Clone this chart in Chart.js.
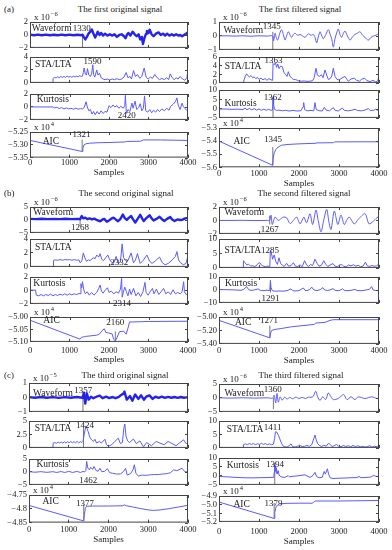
<!DOCTYPE html>
<html>
<head>
<meta charset="utf-8">
<script src="https://cdn.jsdelivr.net/npm/chart.js@4.4.0/dist/chart.umd.min.js"></script>
<style>
  body { margin: 0; background: #fff; }
  #fig { position: relative; width: 392px; height: 550px; overflow: hidden; background: #fff; font-family: 'Liberation Serif', 'Times New Roman', serif; color: #222; }
  #fig canvas { position: absolute; }
  .ttl { position: absolute; font-size: 9px; white-space: nowrap; transform: translate(-50%, -50%); }
  .tag { position: absolute; font-size: 9px; transform: translate(0, -50%); }
</style>
</head>
<body>
<div id="fig"></div>
<script>
const FONT = "'Liberation Serif', 'Times New Roman', serif";
const BLUE = 'rgb(90,90,255)';
const BLUE_DARK = 'rgb(35,35,235)';

// shared
const xTicks = [0, 1000, 2000, 3000, 4000];
const rowNames = ['Waveform', 'STA/LTA', 'Kurtosis', 'AIC'];
const titles = ['The first original signal', 'The first filtered signal', 'The second original signal',
                'The second filtered signal', 'The third original signal', 'The third filtered signal'];
const tags = ['(a)', '(b)', '(c)'];

// (a) first original signal
const aOrigWave = [[0,0.05],[100,-0.05],[200,0.06],[300,-0.04],[400,0.05],[500,-0.05],[600,0.04],[700,-0.05],[800,0.06],[900,-0.04],[1000,0.05],[1100,-0.05],[1200,0.04],[1300,-0.04],[1330,0.05],[1360,-0.3],[1400,-0.7],[1440,-0.3],[1480,0.2],[1530,0.5],[1565,0.85],[1600,0.3],[1650,-0.4],[1690,0.1],[1715,0.5],[1760,0.0],[1800,0.3],[1850,-0.1],[1900,0.2],[1960,-0.1],[2020,0.1],[2080,-0.1],[2140,0.1],[2200,-0.3],[2260,0.0],[2320,0.1],[2380,-0.2],[2420,-0.5],[2460,0.1],[2490,0.3],[2540,-0.1],[2600,0.5],[2650,0.1],[2700,-0.2],[2750,0.1],[2790,-0.7],[2830,-0.3],[2860,-1.4],[2900,-0.4],[2940,0.2],[2960,0.6],[3000,0.3],[3030,0.8],[3080,0.1],[3130,-0.2],[3190,0.2],[3255,0.4],[3310,0.0],[3370,0.2],[3420,-0.1],[3470,0.2],[3530,-0.1],[3590,0.1],[3640,-0.1],[3700,0.1],[3760,-0.1],[3800,0.0],[3850,-0.2],[3900,0.0],[3950,0.2],[4000,0.4]];
const aOrigSta = [[0,0],[580,0],[585,0.7],[620,0.85],[660,0.75],[700,0.95],[740,0.8],[780,1.0],[820,0.85],[860,1.0],[900,0.85],[940,1.05],[980,0.9],[1020,1.0],[1060,0.85],[1100,1.05],[1140,0.9],[1180,1.05],[1220,0.95],[1260,1.1],[1300,1.0],[1330,1.05],[1350,1.6],[1370,2.3],[1400,1.4],[1430,1.2],[1455,2.2],[1490,1.2],[1530,1.0],[1560,1.4],[1590,2.8],[1610,1.3],[1640,0.9],[1690,2.0],[1720,1.2],[1760,1.5],[1800,0.8],[1850,0.6],[1900,0.5],[1960,0.6],[2020,0.45],[2080,0.6],[2140,0.5],[2200,0.65],[2260,0.5],[2320,0.6],[2380,0.9],[2435,1.6],[2480,0.8],[2530,1.0],[2570,0.6],[2620,1.9],[2670,1.0],[2720,1.3],[2780,0.7],[2830,1.0],[2890,2.3],[2940,0.9],[2990,0.6],[3050,0.9],[3100,0.7],[3160,1.3],[3220,0.8],[3280,0.5],[3340,0.7],[3400,0.5],[3460,0.8],[3510,0.5],[3550,1.4],[3600,0.8],[3650,0.5],[3700,0.8],[3750,0.6],[3800,1.0],[3860,0.6],[3920,0.4],[3970,0.8],[4000,1.9]];
const aOrigKurt = [[0,0],[300,0],[580,0],[620,-0.15],[680,-0.05],[740,-0.25],[800,-0.1],[860,-0.3],[920,-0.15],[980,-0.3],[1040,-0.2],[1100,-0.35],[1160,-0.2],[1220,-0.35],[1280,-0.25],[1330,-0.3],[1370,-0.1],[1420,0.8],[1450,0.0],[1490,-0.6],[1530,-0.4],[1570,-1.1],[1610,-0.7],[1650,-1.2],[1700,-0.7],[1750,-1.1],[1800,-0.6],[1850,-1.0],[1900,-0.7],[1950,-0.8],[2000,0.2],[2050,-0.1],[2100,0.3],[2150,0.0],[2200,0.2],[2250,-0.2],[2300,0.1],[2360,-0.2],[2400,0.2],[2415,1.8],[2440,-1.0],[2480,-0.4],[2530,-0.7],[2580,0.6],[2610,-0.2],[2660,0.9],[2700,-0.4],[2750,-0.1],[2790,0.5],[2830,-0.6],[2870,-0.2],[2900,1.7],[2930,-0.6],[2980,-0.8],[3030,-0.4],[3080,-0.9],[3130,-0.5],[3180,-0.8],[3230,-0.4],[3280,-0.7],[3340,-0.3],[3400,-0.6],[3460,-0.2],[3520,-0.5],[3560,0.1],[3620,0.4],[3680,0.8],[3720,1.4],[3750,0.3],[3800,-0.4],[3850,0.6],[3880,0.1],[3920,-0.2],[3960,-0.5],[4000,-0.3]];
const aOrigAic = [[0,-5.283],[1321,-5.326],[1340,-5.312],[1370,-5.300],[1420,-5.296],[1500,-5.294],[1700,-5.292],[2000,-5.291],[2400,-5.289],[2450,-5.287],[2800,-5.286],[2870,-5.281],[3300,-5.281],[4000,-5.283]];
const aOrigTicks = [['−2','0','2'], ['0','2','4'], ['−2','0','2'], ['−5.35','−5.30','−5.25']];
const aOrigExp = [-6, null, null, 4];
const aOrigPicks = ['1330', '1590', '2420', '1321'];
const aOrigNamePos = [[43,0.92], [127,2.77], [170,1.08], [322,-5.287]];
const aOrigPickPos = [[1311,0.92], [1580,3.28], [2452,-1.34], [1301,-5.2615]];
const aOrigMarks = [[1330,-2,0.05], null, null, [1321,-5.326,-5.28]];

// (a) first filtered signal
const aFiltWave = [[0,0.0],[200,0.01],[400,-0.01],[600,0.01],[800,-0.02],[1000,0.01],[1200,-0.01],[1340,0.0],[1365,-0.35],[1400,0.2],[1440,-0.2],[1467,-0.3],[1520,0.2],[1567,0.45],[1610,0.1],[1650,-0.3],[1690,0.0],[1733,0.3],[1780,0.05],[1817,-0.1],[1860,0.1],[1900,0.2],[1960,0.05],[2025,0.1],[2090,0.0],[2150,-0.1],[2233,0.15],[2300,0.05],[2358,0.1],[2400,-0.1],[2442,-0.5],[2480,-0.1],[2525,0.3],[2570,0.0],[2608,-0.2],[2670,0.1],[2733,0.45],[2780,0.1],[2817,-0.2],[2858,-0.8],[2900,-0.2],[2940,0.2],[2983,0.5],[3025,0.1],[3067,-0.1],[3110,0.2],[3150,0.35],[3210,0.0],[3275,-0.3],[3340,-0.05],[3400,0.1],[3460,0.2],[3525,0.3],[3590,0.05],[3650,-0.1],[3733,-0.3],[3800,-0.1],[3858,0.0],[3930,0.05],[4000,0.2]];
const aFiltSta = [[0,0],[608,0],[630,0.8],[660,1.6],[692,2.1],[720,1.7],[760,1.4],[800,1.7],[840,1.2],[880,1.4],[920,1.0],[960,1.3],[1000,0.8],[1050,1.1],[1100,0.7],[1150,1.0],[1200,0.6],[1250,1.0],[1300,0.7],[1342,0.6],[1350,4.5],[1380,4.2],[1410,4.7],[1440,3.6],[1470,4.4],[1500,3.3],[1540,3.9],[1583,3.75],[1620,2.5],[1667,1.9],[1700,1.5],[1733,2.6],[1770,1.6],[1817,1.1],[1860,0.8],[1920,0.75],[1990,0.5],[2060,0.4],[2130,0.45],[2200,0.35],[2270,0.4],[2340,0.5],[2380,1.2],[2425,3.4],[2460,1.8],[2510,1.5],[2560,1.9],[2600,1.2],[2650,3.0],[2700,1.6],[2733,0.8],[2780,1.0],[2820,1.6],[2858,3.4],[2900,1.5],[2950,0.8],[3000,0.7],[3050,1.0],[3150,1.5],[3200,0.8],[3233,0.4],[3300,0.9],[3380,1.1],[3440,0.6],[3510,0.4],[3560,0.8],[3640,1.1],[3700,0.5],[3780,0.3],[3850,0.6],[3920,0.2],[3970,0.5],[4000,1.9]];
const aFiltKurt = [[0,-0.3],[150,-0.2],[300,-0.4],[450,-0.3],[600,-0.5],[650,0.3],[700,-0.6],[760,0.1],[820,-0.7],[880,0.0],[940,-0.8],[1000,-0.2],[1060,-0.9],[1120,-0.3],[1180,-0.9],[1240,-0.4],[1300,-0.9],[1340,-0.8],[1350,6.3],[1365,2.0],[1390,-0.4],[1440,-1.0],[1500,-0.8],[1580,-1.2],[1660,-0.9],[1750,-1.3],[1850,-1.0],[1950,-1.3],[2050,-1.1],[2100,1.0],[2117,3.2],[2140,-0.5],[2200,-1.2],[2300,-1.0],[2370,-1.2],[2400,3.2],[2430,-0.5],[2500,-1.1],[2580,-1.3],[2633,0.7],[2680,-0.8],[2760,-1.2],[2858,0.5],[2900,-0.9],[2980,-1.3],[3083,0.3],[3130,-0.9],[3220,-1.2],[3320,-0.9],[3400,-0.3],[3460,-1.0],[3560,-1.2],[3650,-0.8],[3733,0.0],[3780,-1.0],[3870,-0.9],[3920,-0.3],[3970,-1.0],[4000,-0.8]];
const aFiltAic = [[0,-5.40],[1342,-5.585],[1355,-5.53],[1380,-5.49],[1420,-5.465],[1480,-5.445],[1560,-5.432],[1700,-5.426],[2000,-5.421],[2400,-5.417],[2420,-5.414],[2860,-5.412],[2890,-5.406],[4000,-5.405]];
const aFiltTicks = [['−1','0','1'], ['0','2','4','6'], ['−5','0','5','10'], ['−5.6','−5.5','−5.4','−5.3']];
const aFiltExp = [-6, null, null, 4];
const aFiltPicks = ['1345', '1363', '1362', '1345'];
const aFiltNamePos = [[110,0.38], [143,3.76], [135,2.88], [360,-5.405]];
const aFiltPickPos = [[1318,0.64], [1360,5.08], [1342,5.88], [1350,-5.392]];
const aFiltMarks = [[1345,-1,0.3], null, [1350,-5,6.3], [1345,-5.585,-5.445]];

// (b) second original signal
const bOrigWave = [[0,0.4],[150,0.3],[300,0.45],[450,0.3],[600,0.4],[750,0.3],[900,0.45],[1050,0.3],[1200,0.4],[1268,0.3],[1310,1.5],[1350,0.6],[1400,0.9],[1450,0.3],[1510,0.6],[1570,0.2],[1630,0.5],[1700,-0.1],[1775,-0.5],[1830,0.1],[1880,0.4],[1945,-0.7],[2000,-0.2],[2060,0.5],[2115,0.9],[2170,0.2],[2230,-0.5],[2290,0.4],[2350,2.1],[2400,0.7],[2450,0.0],[2500,0.8],[2560,1.5],[2610,0.2],[2665,-1.0],[2720,0.3],[2790,2.0],[2840,0.5],[2880,-0.4],[2930,0.5],[3030,1.8],[3080,0.6],[3130,-0.2],[3200,0.4],[3280,1.2],[3340,0.3],[3400,-0.4],[3470,0.4],[3550,1.1],[3600,0.2],[3660,-0.4],[3730,0.2],[3800,0.0],[3860,0.1],[3930,0.6],[4000,0.8]];
const bOrigSta = [[0,0],[590,0],[595,0.95],[640,1.0],[700,0.95],[760,1.05],[820,0.95],[880,1.05],[940,1.0],[1000,1.05],[1060,0.95],[1120,1.05],[1180,0.95],[1240,1.0],[1268,0.6],[1310,0.8],[1350,2.0],[1390,1.3],[1430,0.8],[1480,1.0],[1520,0.9],[1600,1.3],[1650,1.2],[1690,1.7],[1740,1.4],[1775,1.9],[1815,1.1],[1860,0.9],[1900,1.2],[1970,1.7],[2010,1.1],[2060,0.7],[2115,0.5],[2180,1.5],[2230,0.6],[2290,0.7],[2332,3.3],[2370,1.3],[2440,0.8],[2480,0.9],[2560,2.0],[2620,0.6],[2670,1.0],[2720,1.9],[2790,0.5],[2860,0.9],[2960,1.7],[3030,0.8],[3090,0.5],[3180,0.9],[3280,1.4],[3350,0.6],[3420,0.3],[3500,0.5],[3600,1.0],[3680,1.5],[3720,2.2],[3760,1.0],[3810,0.6],[3880,0.3],[3950,0.5],[3980,1.2],[4000,1.0]];
const bOrigKurt = [[0,0.05],[140,0.05],[160,-0.7],[220,-0.8],[280,-0.6],[340,-0.8],[400,-0.6],[460,-0.75],[520,-0.55],[580,-0.8],[640,-0.6],[700,-0.75],[760,-0.55],[820,-0.7],[880,-0.5],[940,-0.7],[1000,-0.5],[1060,-0.65],[1120,-0.5],[1180,-0.6],[1240,-0.45],[1268,-0.5],[1290,1.0],[1310,0.4],[1330,1.3],[1360,0.1],[1400,-0.5],[1450,-0.2],[1500,-0.7],[1560,-0.3],[1620,-0.7],[1690,-0.3],[1740,0.3],[1775,0.8],[1810,-0.1],[1850,-0.4],[1900,0.0],[1960,0.4],[2000,-0.3],[2060,-0.1],[2120,-0.5],[2180,-0.2],[2240,-0.4],[2290,0.2],[2320,1.8],[2335,-1.0],[2360,-0.3],[2400,0.5],[2440,-0.2],[2480,-0.8],[2520,0.2],[2560,-0.6],[2620,0.3],[2680,-0.8],[2740,-0.3],[2800,-0.9],[2860,-0.2],[2910,1.2],[2940,-0.3],[2990,-0.7],[3040,-0.2],[3100,0.3],[3140,-0.5],[3200,0.2],[3260,-0.6],[3320,-0.2],[3380,0.3],[3440,-0.5],[3500,-0.2],[3560,-0.6],[3620,0.1],[3680,-0.5],[3740,-0.3],[3800,-0.5],[3850,-0.2],[3890,1.3],[3910,-0.2],[3950,-0.6],[4000,-0.5]];
const bOrigAic = [[0,-5.013],[1268,-5.089],[1300,-5.082],[1400,-5.078],[1520,-5.076],[1690,-5.073],[1760,-5.068],[1820,-5.056],[1880,-5.047],[1920,-5.062],[1990,-5.064],[2080,-5.068],[2115,-5.089],[2160,-5.096],[2200,-5.084],[2265,-5.059],[2370,-5.057],[2435,-5.069],[2480,-5.045],[2520,-5.020],[2800,-5.019],[3000,-5.018],[4000,-5.017]];
const bOrigTicks = [['−5','0','5'], ['0','2','4'], ['−2','0','2'], ['−5.10','−5.05','−5.00']];
const bOrigExp = [-6, null, null, 4];
const bOrigPicks = ['1268', '2332', '2314', '2160'];
const bOrigNamePos = [[85,2.96], [127,2.71], [85,0.96], [338,-5.015]];
const bOrigPickPos = [[1268,-3.08], [2258,0.57], [2326,-1.95], [2156,-5.021]];
const bOrigMarks = [[1268,-2.3,0.3], null, null, [2160,-5.096,-5.058]];

// (b) second filtered signal
const bFiltWave = [[0,0],[300,0.0],[600,0.02],[900,-0.02],[1200,0.01],[1265,0.0],[1300,0.8],[1333,-0.6],[1400,0.5],[1480,0.0],[1560,0.3],[1608,0.5],[1690,0.4],[1775,-0.45],[1860,0.0],[1942,0.5],[2025,-0.5],[2100,0.3],[2125,0.5],[2190,-0.35],[2275,1.0],[2340,-0.6],[2425,1.55],[2480,0.0],[2550,-1.7],[2620,0.1],[2692,1.65],[2750,-0.3],[2800,-1.35],[2883,1.4],[2970,-0.6],[3050,0.8],[3130,-0.6],[3200,0.1],[3258,0.5],[3380,-0.5],[3480,0.15],[3650,1.0],[3750,-0.5],[3860,-0.1],[3930,0.3],[4000,0.65]];
const bFiltSta = [[0,0],[600,0],[610,2.5],[650,1.8],[700,1.0],[740,1.3],[790,0.6],[830,0.8],[880,0.5],[930,0.7],[980,1.6],[1020,1.8],[1060,1.0],[1110,0.6],[1160,0.5],[1220,0.6],[1270,0.5],[1285,6.0],[1310,5.2],[1340,3.0],[1380,4.5],[1420,2.2],[1460,1.2],[1500,3.5],[1540,1.5],[1580,1.0],[1630,0.5],[1690,1.6],[1740,0.6],[1800,0.8],[1860,1.8],[1910,0.6],[1960,0.5],[2030,1.0],[2080,0.4],[2140,2.5],[2190,1.0],[2240,0.5],[2290,1.2],[2340,0.8],[2400,3.0],[2450,1.6],[2500,0.6],[2560,0.9],[2620,2.5],[2670,1.2],[2720,0.5],[2780,1.0],[2850,1.5],[2900,0.6],[2960,0.4],[3020,1.0],[3070,1.2],[3120,0.5],[3180,0.4],[3240,1.0],[3300,0.7],[3360,1.1],[3420,0.6],[3480,0.9],[3540,0.4],[3600,0.6],[3660,2.0],[3700,0.8],[3760,0.5],[3820,0.8],[3880,0.6],[3940,0.7],[4000,1.5]];
const bFiltKurt = [[0,0.3],[200,0.2],[400,0.0],[550,-0.3],[620,0.5],[692,2.6],[740,0.2],[800,-0.4],[880,0.0],[980,0.8],[1030,-0.3],[1100,-0.5],[1200,-0.2],[1270,-0.5],[1285,7.3],[1300,2.0],[1330,-0.5],[1400,-1.0],[1500,-0.8],[1600,-0.9],[1700,-0.6],[1800,0.8],[1840,-0.5],[1900,-0.8],[2000,-0.5],[2080,1.0],[2110,1.5],[2150,-0.3],[2200,-0.5],[2270,0.3],[2317,2.2],[2370,0.0],[2450,-0.5],[2530,0.2],[2600,1.8],[2640,0.0],[2720,-0.5],[2800,0.3],[2850,1.0],[2900,-0.3],[3000,-0.6],[3090,0.9],[3130,-0.3],[3200,-0.6],[3300,-0.3],[3400,0.4],[3450,-0.4],[3550,-0.6],[3650,-0.2],[3760,0.5],[3817,2.6],[3850,0.0],[3920,-0.5],[4000,-0.4]];
const bFiltAic = [[0,-5.05],[1271,-5.31],[1290,-5.24],[1317,-5.20],[1400,-5.185],[1570,-5.17],[1817,-5.145],[2150,-5.125],[2383,-5.11],[2415,-5.09],[2650,-5.08],[2775,-5.05],[2860,-5.04],[4000,-5.04]];
const bFiltTicks = [['−2','0','2'], ['0','5','10'], ['−10','0','10'], ['−5.40','−5.20','−5.00']];
const bFiltExp = [-6, null, null, 4];
const bFiltPicks = ['1267', '1285', '1291', '1271'];
const bFiltNamePos = [[135,1.21], [135,5.97], [150,4.6], [400,-5.079]];
const bFiltPickPos = [[1268,-1.36], [1276,5.97], [1285,-6.7], [1250,-5.055]];
const bFiltMarks = [[1267,-0.6,0.7], null, [1288,-2,7.3], [1271,-5.31,-5.13]];

// (c) third original signal
const cOrigWave = [[0,0.02],[150,-0.02],[300,0.03],[450,-0.02],[600,0.02],[750,-0.03],[900,0.02],[1050,-0.02],[1200,0.03],[1350,-0.02],[1380,0.33],[1415,-0.42],[1455,0.28],[1500,-0.15],[1560,0.05],[1620,-0.05],[1700,0.05],[1780,0.12],[1850,-0.05],[1940,0.05],[2020,-0.04],[2100,0.03],[2180,-0.05],[2260,0.04],[2330,0.2],[2370,0.25],[2400,0.4],[2460,-0.15],[2540,0.1],[2600,-0.23],[2670,0.2],[2750,-0.1],[2820,0.15],[2890,-0.15],[2950,0.05],[3030,0.14],[3110,-0.1],[3180,0.05],[3260,-0.03],[3340,0.06],[3420,-0.03],[3500,0.04],[3580,-0.02],[3660,0.03],[3740,-0.03],[3820,0.03],[3900,-0.02],[4000,0.02]];
const cOrigSta = [[0,0],[600,0],[610,0.9],[650,1.0],[690,0.85],[730,1.1],[770,0.9],[810,1.1],[850,0.9],[890,1.15],[930,0.9],[970,1.15],[1010,0.95],[1050,1.2],[1090,0.95],[1130,1.15],[1170,0.95],[1210,1.2],[1250,0.95],[1290,1.15],[1330,1.0],[1357,1.2],[1390,2.5],[1430,4.1],[1460,3.6],[1490,3.0],[1530,2.0],[1575,1.5],[1620,1.2],[1660,1.6],[1700,0.9],[1770,1.2],[1820,0.9],[1910,1.6],[1950,0.6],[2000,0.3],[2080,0.6],[2160,1.2],[2245,1.8],[2300,0.8],[2350,1.0],[2385,3.6],[2410,4.45],[2440,2.2],[2480,1.3],[2530,1.0],[2627,1.65],[2700,0.8],[2790,1.3],[2880,0.2],[2960,1.0],[3080,0.4],[3200,1.2],[3290,0.9],[3400,0.6],[3500,1.2],[3600,0.8],[3700,0.4],[3780,0.9],[3890,1.5],[3950,0.8],[4000,0.9]];
const cOrigKurt = [[0,0.1],[150,-0.1],[300,0.1],[450,-0.15],[600,0.1],[700,-0.2],[800,0.15],[900,-0.2],[1000,0.2],[1100,-0.2],[1200,0.2],[1300,-0.2],[1357,0.2],[1400,0.0],[1430,0.5],[1450,4.1],[1480,1.5],[1520,0.8],[1550,1.8],[1600,1.0],[1635,2.1],[1690,0.5],[1740,0.3],[1785,1.4],[1830,0.1],[1900,0.2],[1970,1.3],[2030,-0.3],[2100,-0.5],[2200,-0.8],[2300,-0.8],[2380,0.2],[2430,1.4],[2470,-1.2],[2560,-0.6],[2620,1.0],[2650,2.8],[2690,-0.5],[2750,-1.6],[2850,-1.2],[2950,-1.3],[3050,-1.1],[3150,-1.0],[3250,-1.0],[3350,-0.8],[3450,-0.7],[3560,-0.3],[3640,0.8],[3720,0.5],[3850,1.4],[3920,0.1],[4000,0.0]];
const cOrigAic = [[0,-4.788],[1377,-4.844],[1395,-4.82],[1420,-4.795],[1460,-4.791],[1600,-4.790],[2000,-4.790],[2350,-4.789],[2400,-4.786],[2450,-4.789],[2600,-4.793],[2800,-4.799],[3000,-4.804],[3130,-4.806],[3300,-4.804],[3500,-4.800],[3700,-4.795],[3900,-4.790],[4000,-4.787]];
const cOrigTicks = [['−1','0','1'], ['0','2.5','5'], ['−5','0','5'], ['−4.85','−4.8','−4.75']];
const cOrigExp = [-5, null, null, 4];
const cOrigPicks = ['1357', '1424', '1462', '1377'];
const cOrigNamePos = [[101,0.29], [144,3.65], [187,2.69], [338,-4.774]];
const cOrigPickPos = [[1364,0.47], [1407,4.07], [1490,-3.35], [1407,-4.782]];
const cOrigMarks = [[1357,-1,0.0], [1370,0,3.7], null, [1377,-4.844,-4.785]];

// (c) third filtered signal
const cFiltWave = [[0,0.05],[300,-0.05],[600,0.05],[900,-0.05],[1200,0.05],[1340,-0.05],[1380,1.0],[1417,-1.8],[1450,1.6],[1483,-1.5],[1530,0.4],[1580,-0.8],[1640,0.3],[1700,-0.4],[1770,0.2],[1840,-0.3],[1920,0.3],[2000,-0.2],[2080,0.2],[2160,-0.2],[2240,0.3],[2300,0.2],[2358,0.6],[2417,2.4],[2467,0.4],[2525,-0.9],[2592,0.4],[2667,-0.6],[2733,1.8],[2800,0.4],[2858,-0.6],[2980,-0.2],[3117,1.2],[3200,-0.6],[3300,0.4],[3400,-0.6],[3480,0.4],[3650,-0.2],[3820,0.4],[3950,-0.2],[4000,-0.2]];
const cFiltSta = [[0,0],[600,0],[610,1.2],[660,1.5],[710,1.2],[760,1.6],[810,1.3],[860,1.6],[910,1.2],[960,1.5],[1010,1.3],[1060,1.7],[1110,1.3],[1160,1.6],[1210,1.2],[1260,1.5],[1310,1.2],[1360,1.4],[1390,3.5],[1411,6.0],[1450,5.8],[1490,4.5],[1530,3.0],[1570,1.5],[1610,0.6],[1650,0.4],[1700,0.3],[1750,0.8],[1800,1.5],[1840,0.5],[1900,0.3],[1960,0.6],[2020,0.9],[2080,0.5],[2140,0.6],[2200,0.9],[2260,0.6],[2320,1.2],[2370,3.5],[2400,4.8],[2430,3.0],[2470,1.5],[2520,0.8],[2570,0.5],[2620,1.0],[2680,0.6],[2740,1.8],[2780,1.2],[2830,0.5],[2880,0.8],[2940,1.3],[2990,0.6],[3050,0.4],[3110,0.9],[3170,0.5],[3230,0.8],[3290,0.4],[3350,0.9],[3410,0.5],[3470,0.8],[3530,0.4],[3590,0.6],[3650,0.3],[3710,0.5],[3770,0.8],[3830,0.3],[3890,0.6],[3950,0.4],[4000,1.2]];
const cFiltKurt = [[0,-0.3],[200,-0.5],[400,-0.8],[600,-1.0],[800,-1.1],[1000,-1.0],[1200,-0.9],[1370,-0.8],[1380,2.0],[1394,7.0],[1405,3.0],[1415,5.5],[1425,2.0],[1435,4.5],[1450,1.0],[1480,3.0],[1500,0.5],[1550,-0.5],[1650,-0.8],[1730,0.2],[1760,-0.5],[1850,-0.2],[1950,0.0],[2050,0.3],[2150,0.6],[2200,0.0],[2280,-0.8],[2350,0.3],[2400,2.0],[2440,-0.3],[2500,-1.0],[2580,-0.8],[2630,2.5],[2660,1.0],[2710,4.0],[2740,1.0],[2780,-1.0],[2850,-1.5],[2950,-1.3],[3100,-1.2],[3300,-1.0],[3450,-0.9],[3500,-0.3],[3550,-1.0],[3700,-0.8],[3800,-0.6],[3860,0.3],[3920,-0.2],[4000,-0.5]];
const cFiltAic = [[0,-4.97],[1379,-5.16],[1395,-5.09],[1430,-5.02],[1500,-4.992],[1700,-4.985],[2000,-4.983],[2250,-4.983],[2330,-4.985],[2380,-4.965],[2420,-4.958],[3000,-4.958],[4000,-4.952]];
const cFiltTicks = [['−5','0','5'], ['0','5','10'], ['−5','0','5','10'], ['−5.2','−5.1','−5.0','−4.9']];
const cFiltExp = [-6, null, null, 4];
const cFiltPicks = ['1360', '1411', '1394', '1379'];
const cFiltNamePos = [[135,1.68], [193,6.93], [193,5.56], [360,-5.0]];
const cFiltPickPos = [[1342,3.1], [1342,7.5], [1400,6.5], [1360,-4.988]];
const cFiltMarks = [[1360,-4,0.0], null, [1394,-4.5,7], [1379,-5.16,-4.98]];

// page layout of each column: plot-area x range, rows' y ranges, gaps for x labels
const columns = [
  {title: titles[0], tx: 120, ty: 9, thick: true, series: [aOrigWave, aOrigSta, aOrigKurt, aOrigAic], ticks: aOrigTicks, exp: aOrigExp, picks: aOrigPicks, namePos: aOrigNamePos, pickPos: aOrigPickPos, marks: aOrigMarks,
   x: [30, 188], rows: [[22,48],[57,83],[94,120],[132,158]], tickGap: 5.5, sampGap: 15},
  {title: titles[1], tx: 300, ty: 9, thick: false, series: [aFiltWave, aFiltSta, aFiltKurt, aFiltAic], ticks: aFiltTicks, exp: aFiltExp, picks: aFiltPicks, namePos: aFiltNamePos, pickPos: aFiltPickPos, marks: aFiltMarks,
   x: [219, 379], rows: [[22,50],[57,83],[90,118],[128,167]], tickGap: 6.3, sampGap: 16.3},
  {title: titles[2], tx: 126, ty: 193, thick: true, series: [bOrigWave, bOrigSta, bOrigKurt, bOrigAic], ticks: bOrigTicks, exp: bOrigExp, picks: bOrigPicks, namePos: bOrigNamePos, pickPos: bOrigPickPos, marks: bOrigMarks,
   x: [30, 188], rows: [[207,233],[239,267],[277,304],[317,342]], tickGap: 8.7, sampGap: 17.7},
  {title: titles[3], tx: 304, ty: 193, thick: false, series: [bFiltWave, bFiltSta, bFiltKurt, bFiltAic], ticks: bFiltTicks, exp: bFiltExp, picks: bFiltPicks, namePos: bFiltNamePos, pickPos: bFiltPickPos, marks: bFiltMarks,
   x: [219, 379], rows: [[207,234],[239,268],[277,303],[317,344]], tickGap: 7.3, sampGap: 16.7},
  {title: titles[4], tx: 125, ty: 375, thick: true, series: [cOrigWave, cOrigSta, cOrigKurt, cOrigAic], ticks: cOrigTicks, exp: cOrigExp, picks: cOrigPicks, namePos: cOrigNamePos, pickPos: cOrigPickPos, marks: cOrigMarks,
   x: [29, 188], rows: [[383,412],[421,448],[459,485],[495,523]], tickGap: 7, sampGap: 17},
  {title: titles[5], tx: 301, ty: 375, thick: false, series: [cFiltWave, cFiltSta, cFiltKurt, cFiltAic], ticks: cFiltTicks, exp: cFiltExp, picks: cFiltPicks, namePos: cFiltNamePos, pickPos: cFiltPickPos, marks: cFiltMarks,
   x: [219, 379], rows: [[384,412],[421,448],[458,485],[496,522]], tickGap: 9.5, sampGap: 19.7}
];

const fig = document.getElementById('fig');
const YW = 32, PT = 14, PR = 16, XH = 10;

// box, mirrored ticks, exponent and in-plot texts
const decor = {
  id: 'decor',
  afterDraw(chart, args, o) {
    const {ctx, chartArea: a, scales: {x, y}} = chart;
    ctx.save();
    ctx.strokeStyle = '#444';
    ctx.lineWidth = 1;
    ctx.strokeRect(a.left + 0.5, a.top + 0.5, a.right - a.left - 1, a.bottom - a.top - 1);
    ctx.beginPath();
    x.ticks.forEach(t => {
      const px = Math.round(x.getPixelForValue(t.value)) + 0.5;
      ctx.moveTo(px, a.top); ctx.lineTo(px, a.top + 3);
    });
    y.ticks.forEach(t => {
      const py = Math.round(y.getPixelForValue(t.value)) + 0.5;
      ctx.moveTo(a.right, py); ctx.lineTo(a.right - 3, py);
    });
    ctx.stroke();
    ctx.fillStyle = '#222';
    if (o.exp != null) {
      ctx.font = '9px ' + FONT;
      ctx.textAlign = 'left';
      ctx.textBaseline = 'alphabetic';
      const bx = a.left + 4, by = a.top - 2;
      ctx.fillText('x 10', bx, by);
      const w = ctx.measureText('x 10').width;
      ctx.font = '6.5px ' + FONT;
      ctx.fillText(o.exp < 0 ? '−' + (-o.exp) : String(o.exp), bx + w + 1, by - 4);
    }
    ctx.font = '9.5px ' + FONT;
    ctx.textBaseline = 'middle';
    ctx.textAlign = 'left';
    ctx.fillText(o.name, x.getPixelForValue(o.namePos[0]), y.getPixelForValue(o.namePos[1]));
    ctx.font = '9px ' + FONT;
    ctx.textAlign = 'center';
    ctx.fillText(o.pick, x.getPixelForValue(o.pickPos[0]), y.getPixelForValue(o.pickPos[1]));
    ctx.restore();
  }
};

function makePanel(col, r) {
  const [x0, x1] = col.x;
  const [y0, y1] = col.rows[r];
  const last = r === 3;
  const xh = last ? col.sampGap + 5.4 : XH;
  const w = (x1 - x0) + YW + PR;
  const h = Math.round((y1 - y0) + PT + xh);
  const cv = document.createElement('canvas');
  cv.width = w; cv.height = h;
  cv.style.left = (x0 - YW) + 'px';
  cv.style.top = (y0 - PT) + 'px';
  cv.style.width = w + 'px';
  cv.style.height = h + 'px';
  fig.appendChild(cv);

  const labels = col.ticks[r];
  const vals = labels.map(s => parseFloat(s.replace('−', '-')));
  const thickRow = col.thick && r === 0;
  const datasets = [{
    data: col.series[r].map(p => ({x: p[0], y: p[1]})),
    borderColor: thickRow ? BLUE_DARK : BLUE,
    borderWidth: thickRow ? 2.4 : 1,
    tension: (!col.thick && r === 0) ? 0.3 : 0
  }];
  const mk = col.marks[r];
  if (mk) {
    datasets.push({data: [{x: mk[0], y: mk[1]}, {x: mk[0], y: mk[2]}], borderColor: '#777', borderWidth: 1});
  }
  const tickFont = {family: FONT, size: 8.5};
  new Chart(cv, {
    type: 'line',
    data: {datasets: datasets},
    plugins: [decor],
    options: {
      responsive: false,
      animation: false,
      devicePixelRatio: 1,
      layout: {padding: {left: 0, top: PT, right: PR, bottom: 0}},
      elements: {point: {radius: 0}, line: {borderJoinStyle: 'round'}},
      plugins: {
        legend: {display: false},
        tooltip: {enabled: false},
        decor: {exp: col.exp[r], name: rowNames[r], namePos: col.namePos[r], pick: col.picks[r], pickPos: col.pickPos[r]}
      },
      scales: {
        x: {
          type: 'linear', min: 0, max: 4000,
          afterBuildTicks: s => { s.ticks = xTicks.map(v => ({value: v})); },
          afterFit: s => { s.height = xh; },
          grid: {drawOnChartArea: false, drawTicks: true, tickLength: -3, color: '#444'},
          border: {display: false},
          ticks: {display: last, padding: col.tickGap - 2.1, font: tickFont, color: '#222', maxRotation: 0, autoSkip: false, callback: v => String(v)},
          title: {display: last, text: 'Samples', font: {family: FONT, size: 9}, color: '#222', padding: {top: 0, bottom: 0}}
        },
        y: {
          type: 'linear', min: vals[0], max: vals[vals.length - 1],
          afterBuildTicks: s => { s.ticks = vals.map(v => ({value: v})); },
          afterFit: s => { s.width = YW; },
          grid: {drawOnChartArea: false, drawTicks: true, tickLength: -3, color: '#444'},
          border: {display: false},
          ticks: {padding: 5, font: tickFont, color: '#222', autoSkip: false, callback: (v, i) => labels[i]}
        }
      }
    }
  });
}

columns.forEach((col, c) => {
  const t = document.createElement('div');
  t.className = 'ttl';
  t.textContent = col.title;
  t.style.left = col.tx + 'px';
  t.style.top = col.ty + 'px';
  fig.appendChild(t);
  if (c % 2 === 0) {
    const g = document.createElement('div');
    g.className = 'tag';
    g.textContent = tags[c / 2];
    g.style.left = '4px';
    g.style.top = col.ty + 'px';
    fig.appendChild(g);
  }
  for (let r = 0; r < 4; r++) makePanel(col, r);
});
</script>
</body>
</html>
